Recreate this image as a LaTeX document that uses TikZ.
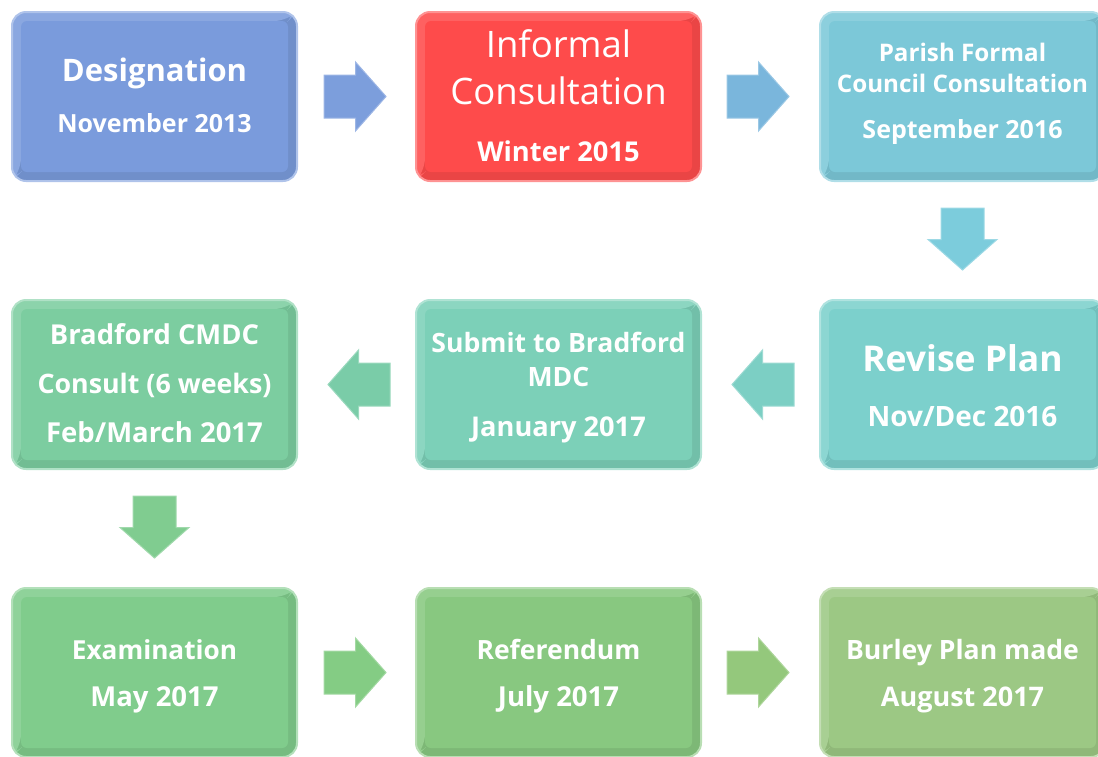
\documentclass[tikz,border=0pt]{standalone}
\usepackage{fontspec}
\setmainfont{Open Sans}
\usetikzlibrary{calc,shapes.arrows}
\definecolor{cA}{HTML}{7A9BDC}
\definecolor{cB}{HTML}{FE4B4B}
\definecolor{cC}{HTML}{7CC8D8}
\definecolor{cD}{HTML}{7CD0CC}
\definecolor{cE}{HTML}{7CD0B8}
\definecolor{cF}{HTML}{7CCDA0}
\definecolor{cG}{HTML}{80CC8C}
\definecolor{cH}{HTML}{88C880}
\definecolor{cI}{HTML}{9CC884}
\definecolor{aA}{HTML}{7C9EDC}
\definecolor{aB}{HTML}{7AB6DC}
\definecolor{aC}{HTML}{7CCCDC}
\definecolor{aD}{HTML}{7CCFC4}
\definecolor{aE}{HTML}{7ACCA8}
\definecolor{aF}{HTML}{80CC90}
\definecolor{aG}{HTML}{84CC84}
\definecolor{aH}{HTML}{94C87C}
\tikzset{
  stagebox/.style={rectangle, rounded corners=14pt, minimum width=285pt, minimum height=169pt,
    inner sep=0pt, fill=#1, draw=#1!60!white, line width=2pt,
    path picture={
      \fill[#1!92!black] (path picture bounding box.north west) rectangle (path picture bounding box.south east);
      \fill[#1!88!white] (path picture bounding box.north west) -- (path picture bounding box.north east)
        -- ([shift={(-9pt,-9pt)}]path picture bounding box.north east)
        -- ([shift={(9pt,-9pt)}]path picture bounding box.north west)
        -- ([shift={(9pt,9pt)}]path picture bounding box.south west)
        -- (path picture bounding box.south west) -- cycle;
      \fill[#1, rounded corners=6pt] ([shift={(9pt,-9pt)}]path picture bounding box.north west)
        rectangle ([shift={(-9pt,9pt)}]path picture bounding box.south east);
    }},
  flowarrow/.style={single arrow, single arrow head extend=13pt, single arrow tip angle=97,
    minimum height=61pt, inner sep=21pt, outer sep=0pt,
    fill=#1, draw=#1!75!white, line width=1pt},
  bt/.style={text=white, font=\bfseries, anchor=base, inner sep=0pt},
}
\newcommand\fs[1]{\fontsize{#1}{#1}\selectfont}
\begin{document}
\begin{tikzpicture}[x=1pt,y=-1pt]
\path[use as bounding box] (0,0) rectangle (1098,756);
% boxes
\node[stagebox=cA] (b1) at (154.5,96.5) {};
\node[stagebox=cB] (b2) at (558.5,96.5) {};
\node[stagebox=cC] (b3) at (962.5,96.5) {};
\node[stagebox=cD] (b4) at (962.5,384.5) {};
\node[stagebox=cE] (b5) at (558.5,384.5) {};
\node[stagebox=cF] (b6) at (154.5,384.5) {};
\node[stagebox=cG] (b7) at (154.5,672.5) {};
\node[stagebox=cH] (b8) at (558.5,672.5) {};
\node[stagebox=cI] (b9) at (962.5,672.5) {};
% arrows (node centre sits 10pt behind the arrow's midpoint)
\node[flowarrow=aA] (a12) at ($(b1.east)!0.5!(b2.west)+(-11,0)$) {};
\node[flowarrow=aB] (a23) at ($(b2.east)!0.5!(b3.west)+(-12,0)$) {};
\node[flowarrow=aC, shape border rotate=270] (a34) at ($(b3.south)!0.5!(b4.north)+(0,-11)$) {};
\node[flowarrow=aD, shape border rotate=180] (a45) at ($(b4.west)!0.5!(b5.east)+(12,0)$) {};
\node[flowarrow=aE, shape border rotate=180] (a56) at ($(b5.west)!0.5!(b6.east)+(12,0)$) {};
\node[flowarrow=aF, shape border rotate=270] (a67) at ($(b6.south)!0.5!(b7.north)+(0,-11)$) {};
\node[flowarrow=aG] (a78) at ($(b7.east)!0.5!(b8.west)+(-11,0)$) {};
\node[flowarrow=aH] (a89) at ($(b8.east)!0.5!(b9.west)+(-12,0)$) {};
% texts
\node[bt, font=\bfseries\fs{31}] (t1a) at ($(b1.north)+(0,70)$) {Designation};
\node[bt, font=\bfseries\fs{25}] (t1b) at ($(b1.north)+(0,121)$) {November 2013};
\node[bt, font=\fs{36.5}] (t2a) at ($(b2.north)+(0,46)$) {Informal};
\node[bt, font=\fs{36.5}] (t2b) at ($(b2.north)+(0,93)$) {Consultation};
\node[bt, font=\bfseries\fs{27.3}] (t2c) at ($(b2.north)+(0,150)$) {Winter 2015};
\node[bt, font=\bfseries\fs{24.2}] (t3a) at ($(b3.north)+(0,50)$) {Parish Formal};
\node[bt, font=\bfseries\fs{24.2}] (t3b) at ($(b3.north)+(0,81)$) {Council Consultation};
\node[bt, font=\bfseries\fs{25}] (t3c) at ($(b3.north)+(0,127)$) {September 2016};
\node[bt, font=\bfseries\fs{35.5}] (t4a) at ($(b4.north)+(0,72)$) {Revise Plan};
\node[bt, font=\bfseries\fs{28}] (t4b) at ($(b4.north)+(0,127)$) {Nov/Dec 2016};
\node[bt, font=\bfseries\fs{26.6}] (t5a) at ($(b5.north)+(0,53)$) {Submit to Bradford};
\node[bt, font=\bfseries\fs{26.6}] (t5b) at ($(b5.north)+(0,87)$) {MDC};
\node[bt, font=\bfseries\fs{27.2}] (t5c) at ($(b5.north)+(0,137)$) {January 2017};
\node[bt, font=\bfseries\fs{27.4}] (t6a) at ($(b6.north)+(0,45)$) {Bradford CMDC};
\node[bt, font=\bfseries\fs{26.8}] (t6b) at ($(b6.north)+(0,94)$) {Consult (6 weeks)};
\node[bt, font=\bfseries\fs{27.5}] (t6c) at ($(b6.north)+(0,143)$) {Feb/March 2017};
\node[bt, font=\bfseries\fs{26.2}] (t7a) at ($(b7.north)+(0,72)$) {Examination};
\node[bt, font=\bfseries\fs{27.5}] (t7b) at ($(b7.north)+(0,119)$) {May 2017};
\node[bt, font=\bfseries\fs{26.5}] (t8a) at ($(b8.north)+(0,72)$) {Referendum};
\node[bt, font=\bfseries\fs{27.5}] (t8b) at ($(b8.north)+(0,119)$) {July 2017};
\node[bt, font=\bfseries\fs{26.6}] (t9a) at ($(b9.north)+(0,72)$) {Burley Plan made};
\node[bt, font=\bfseries\fs{27}] (t9b) at ($(b9.north)+(0,119)$) {August 2017};
\end{tikzpicture}
\end{document}
